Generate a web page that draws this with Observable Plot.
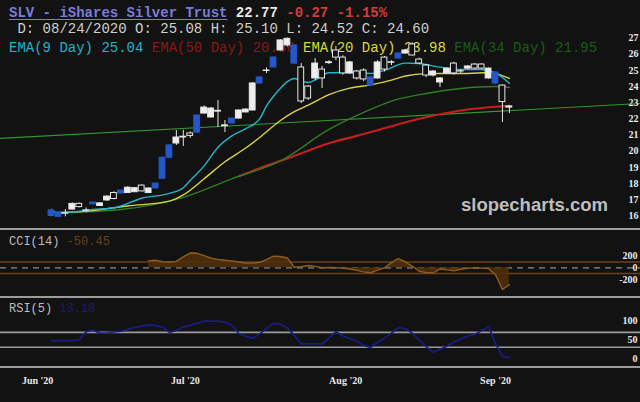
<!DOCTYPE html>
<html><head><meta charset="utf-8">
<script src="https://cdn.jsdelivr.net/npm/d3@7"></script>
<script src="https://cdn.jsdelivr.net/npm/@observablehq/plot@0.6"></script>
<style>
html,body{margin:0;padding:0;background:#121212;}
#wrap{position:relative;width:640px;height:402px;background:#121212;overflow:hidden;}
.mono{position:absolute;left:9px;white-space:pre;font-family:"Liberation Mono",monospace;line-height:1;}
.panel{position:absolute;left:0;z-index:2;}
.sep{position:absolute;left:0;width:640px;height:2px;background:#9c9c9c;z-index:3;}
#wm{position:absolute;left:461px;top:196px;font:bold 18.5px "Liberation Sans",Arial,sans-serif;color:#bdbdbd;line-height:1;z-index:1;}
</style></head>
<body>
<div id="wrap">
  <div class="mono" style="top:6px;font-size:14px;font-weight:bold;z-index:1"><span style="color:#7c7cd8;text-decoration:underline;text-underline-offset:2px">SLV - iShares Silver Trust</span> <span style="color:#e6e6e6">22.77</span> <span style="color:#d63a3a">-0.27 -1.15%</span></div>
  <div class="mono" style="top:22px;font-size:14px;color:#cfcfcf;z-index:1"> D: 08/24/2020 O: 25.08 H: 25.10 L: 24.52 C: 24.60</div>
  <div class="mono" style="top:41px;font-size:14px;z-index:1"><span style="color:#21b3c6">EMA(9 Day) 25.04</span> <span style="color:#8c1717">EMA(50 Day) 20.56</span> <span style="color:#d9d93a">EMA(20 Day) 23.98</span> <span style="color:#1a5c1a">EMA(34 Day) 21.95</span></div>
  <div id="wm">slopecharts.com</div>
  <div class="mono" style="top:236px;font-size:12px;z-index:1"><span style="color:#bdbdbd">CCI(14)</span> <span style="color:#634219">-50.45</span></div>
  <div class="mono" style="top:303px;font-size:12px;z-index:1"><span style="color:#bdbdbd">RSI(5)</span> <span style="color:#1a1a7a">13.18</span></div>
  <div id="p1" class="panel" style="top:0px"></div>
  <div id="p2" class="panel" style="top:229px"></div>
  <div id="p3" class="panel" style="top:297px"></div>
  <div class="sep" style="top:228px"></div>
  <div class="sep" style="top:296px"></div>
  <div class="sep" style="top:366px"></div>
</div>
<script>
// ---- data (x = trading-day index of each candle) ----
const opens  = [16.35,16.20,16.17,16.40,16.75,16.35,16.72,16.62,16.96,17.42,17.39,17.42,17.47,17.88,17.42,17.70,18.30,19.60,20.48,20.85,21.10,21.16,22.33,22.09,22.45,21.55,21.72,22.02,22.40,22.52,24.19,24.96,25.18,26.23,26.54,26.54,25.18,24.00,24.50,25.05,25.45,26.23,25.79,24.81,24.93,24.99,24.56,24.50,25.79,25.47,25.73,26.04,26.60,25.67,25.30,24.68,24.25,24.81,25.42,24.95,25.11,25.36,25.36,24.50,24.87,24.06,22.70];
const highs  = [16.45,16.25,16.40,16.80,16.80,16.50,16.88,16.82,17.25,17.50,17.60,17.80,17.75,17.92,17.72,18.05,19.65,20.40,21.28,21.30,21.20,22.25,22.80,22.70,23.14,21.90,22.05,22.55,22.60,24.25,24.60,25.15,25.85,26.90,27.00,26.60,25.42,24.06,25.73,25.24,25.60,26.48,25.90,25.55,25.00,25.10,24.60,25.60,25.85,25.60,26.10,26.30,26.70,25.75,25.35,24.99,24.55,25.15,25.50,25.05,25.30,25.42,25.42,25.15,24.90,24.10,22.83];
const lows   = [15.95,15.90,15.95,16.35,16.50,16.20,16.68,16.58,16.90,17.00,17.35,17.40,17.45,17.50,17.38,17.68,18.25,19.55,20.36,20.30,20.80,21.10,22.30,22.05,21.47,21.16,21.70,22.00,22.38,22.50,24.15,24.80,25.15,26.20,26.45,25.35,22.95,23.14,24.37,23.88,25.36,25.60,24.70,24.75,24.40,24.30,24.00,24.45,24.90,25.30,25.70,26.00,25.90,25.35,24.55,24.60,23.94,24.75,24.70,24.80,25.05,25.05,25.05,24.45,24.10,21.78,22.33];
const closes = [16.00,15.95,16.14,16.75,16.55,16.32,16.83,16.78,17.20,17.05,17.57,17.75,17.72,17.52,17.70,18.00,19.60,20.36,20.85,20.90,20.95,22.21,22.70,22.64,22.50,21.60,22.02,22.52,22.58,24.19,24.56,24.99,25.79,26.85,26.95,25.42,23.08,23.26,25.42,24.50,25.50,25.79,24.81,25.49,24.50,24.44,24.06,25.49,25.05,25.50,26.04,26.23,25.92,25.42,24.68,24.93,24.50,25.11,24.81,24.93,25.24,25.11,25.11,25.11,24.19,23.04,22.77];
const blueDays = [0,1,6,10,15,16,17,21,26,30,32,35,46,50,64];

const ema9Idx  = [0,1,3,6,9,13,17,19,20,22,24,26,28,30,31,32,33,34,35,36,37,38,40,43,46,48,51,53,56,59,62,64,66];
const ema9Val  = [16.30,16.22,16.25,16.40,16.50,17.10,17.40,17.75,18.20,19.10,20.25,20.95,21.40,22.00,22.80,23.40,23.90,24.30,24.50,24.35,24.25,24.40,24.85,24.87,24.81,25.00,25.45,25.42,25.20,25.05,25.05,24.85,24.20];
const ema20Idx = [1,5,11,17,19,22,25,28,30,33,35,37,40,43,46,49,51,54,57,60,63,66];
const ema20Val = [16.20,16.30,16.62,16.92,17.30,18.30,19.35,20.20,20.85,21.90,22.45,22.85,23.50,23.90,24.10,24.40,24.65,24.80,24.81,24.81,24.87,24.50];
const ema34Idx = [1,10,19,26,33,40,45,49,54,59,64,66];
const ema34Val = [16.20,16.40,17.15,18.30,19.40,21.35,22.40,23.10,23.57,23.88,24.00,23.94];
const ema50Idx = [27,30,34,40,44,49,54,59,64,66];
const ema50Val = [18.45,18.95,19.55,20.50,20.95,21.55,22.10,22.52,22.75,22.80];
const trendIdx = [-7.35,84.9];
const trendVal = [20.80,22.95];

const cciStart = 14;
const cciVals = [120,130,105,100,110,190,255,250,210,165,145,130,120,100,80,80,95,140,200,195,170,10,20,40,25,0,5,0,-5,-20,-45,-70,-85,-40,0,90,160,100,30,-60,-80,-90,-20,-35,-50,-25,-10,0,-5,-15,-120,-375,-290];
const rsiVals = [48,48,48,48,50,72,76,68,69,71,73,78,83,87,90,89,84,70,75,85,89,95,100,100,100,97,90,67,60,54,66,80,94,92,82,62,39,39,39,39,55,72,61,53,47,35,30,43,55,68,83,80,68,50,32,17,25,33,45,52,60,64,75,85,40,6,2];

const priceTicks = [16,17,18,19,20,21,22,23,24,25,26,27];
const cciTicks = [200,0,-200];
const cciLevels = [100,-100];
const rsiTicks = [100,50,0];
const rsiLevels = [70,30];
const monthIdx = [-2,19.3,42.4,64];
const monthLabels = ["Jun '20","Jul '20","Aug '20","Sep '20"];

// ---- build ----
const blueSet = new Set(blueDays);
const candles = opens.map((o,i)=>({i,o,h:highs[i],l:lows[i],c:closes[i],
  kind: blueSet.has(i) ? "blue" : (closes[i] >= o ? "up" : "down")}));
const pts = (idx, val) => idx.map((d,k)=>({i:d, v:val[k]}));
const xDom = {domain:[-7.35,84.9], range:[0,640], axis:null};
const colorScale = {domain:["up","down","blue","edge"], range:["#ededed","#121212","#2457c9","#e6e6e6"]};
const tickFont = {fontFamily:"Liberation Serif, serif", fontSize:10, fill:"#e8e8e8", fontWeight:"bold"};
const st = {background:"transparent", overflow:"visible"};

const main = Plot.plot({
  width:640, height:229, margin:0, style:st,
  x:xDom,
  y:{domain:[16,27], range:[215.5,37.5], axis:null},
  color:colorScale,
  marks:[
    Plot.line(pts(trendIdx,trendVal),{x:"i",y:"v",stroke:"#2e9b2e",strokeWidth:1.1}),
    Plot.line(pts(ema50Idx,ema50Val),{x:"i",y:"v",stroke:"#c41e1e",strokeWidth:2.2,curve:"monotone-x"}),
    Plot.line(pts(ema34Idx,ema34Val),{x:"i",y:"v",stroke:"#2f7d25",strokeWidth:1.4,curve:"monotone-x"}),
    Plot.line(pts(ema20Idx,ema20Val),{x:"i",y:"v",stroke:"#d8d83a",strokeWidth:1.4,curve:"monotone-x"}),
    Plot.line(pts(ema9Idx,ema9Val),{x:"i",y:"v",stroke:"#22b6ca",strokeWidth:1.4,curve:"monotone-x"}),
    Plot.ruleX(candles,{x:"i",y1:"l",y2:"h",stroke:d=>d.kind==="blue"?"blue":"edge",strokeWidth:1}),
    Plot.rect(candles,{x1:d=>d.i-0.42,x2:d=>d.i+0.42,y1:"o",y2:"c",
      fill:"kind",stroke:d=>d.kind==="blue"?"blue":"edge",strokeWidth:1}),
    Plot.text(priceTicks,{frameAnchor:"right",y:d=>d,text:d=>String(d),textAnchor:"end",dx:-2,...tickFont})
  ]
});
document.getElementById("p1").appendChild(main);

const cciData = cciVals.map((v,k)=>({i:cciStart+k, v}));
const cci = Plot.plot({
  width:640, height:68, margin:0, style:st,
  x:xDom,
  y:{domain:[-400,300], range:[61.5,20.9], axis:null},
  marks:[
    Plot.ruleY(cciLevels,{stroke:"#6a4214",strokeWidth:1.5}),
    Plot.ruleY([0],{stroke:"#8c8c8c",strokeWidth:1.2,strokeDasharray:"6,5"}),
    Plot.areaY(cciData,{x:"i",y1:0,y2:"v",fill:"#4f2f0c",fillOpacity:0.9}),
    Plot.line(cciData,{x:"i",y:"v",stroke:"#8f5d20",strokeWidth:1.4}),
    Plot.text(cciTicks,{frameAnchor:"right",y:d=>d,text:d=>String(d),textAnchor:"end",dx:-3,...tickFont})
  ]
});
document.getElementById("p2").appendChild(cci);

const rsiData = rsiVals.map((v,i)=>({i, v}));
const rsi = Plot.plot({
  width:640, height:105, margin:0, style:st,
  x:xDom,
  y:{domain:[0,100], range:[61,23.7], axis:null},
  marks:[
    Plot.ruleY(rsiLevels,{stroke:"#9a9a9a",strokeWidth:1.6}),
    Plot.line(rsiData,{x:"i",y:"v",stroke:"#1b1b88",strokeWidth:1.7}),
    Plot.text(rsiTicks,{frameAnchor:"right",y:d=>d,text:d=>String(d),textAnchor:"end",dx:-3,...tickFont}),
    Plot.text(monthIdx.map((d,k)=>({i:d,label:monthLabels[k]})),{x:"i",frameAnchor:"bottom",dy:-19,text:"label",...tickFont})
  ]
});
document.getElementById("p3").appendChild(rsi);
</script>
</body></html>
